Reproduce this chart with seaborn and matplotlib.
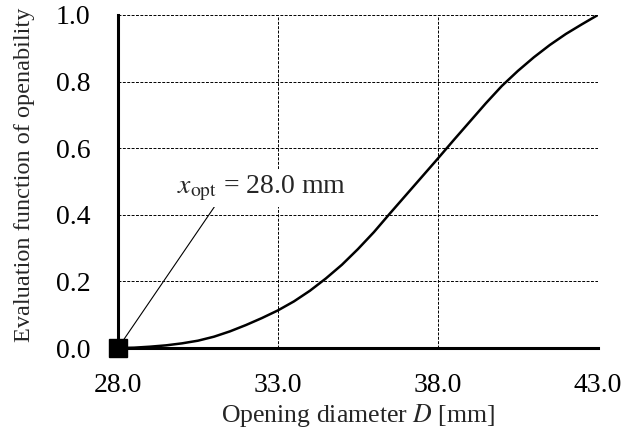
import numpy as np
import pandas as pd
import matplotlib
matplotlib.use('Agg')
import matplotlib.pyplot as plt
import seaborn as sns

# Data
diameter = [28.0, 28.5, 29.0, 29.5, 30.0, 30.5, 31.0, 31.5, 32.0, 32.5,
            33.0, 33.5, 34.0, 34.5, 35.0, 35.5, 36.0, 36.5, 37.0, 37.5,
            38.0, 38.5, 39.0, 39.5, 40.0, 40.5, 41.0, 41.5, 42.0, 42.5, 43.0]
evaluation = [0.000, 0.001, 0.004, 0.008, 0.014, 0.022, 0.034, 0.050, 0.069, 0.090,
              0.113, 0.140, 0.172, 0.209, 0.250, 0.297, 0.348, 0.404, 0.459, 0.514,
              0.569, 0.625, 0.680, 0.735, 0.787, 0.832, 0.873, 0.910, 0.943, 0.972, 1.000]
x_opt = 28.0
y_opt = 0.0
x_ticks = [28.0, 33.0, 38.0, 43.0]
y_ticks = [0.0, 0.2, 0.4, 0.6, 0.8, 1.0]

sns.set_style('white')
plt.rcParams['font.family'] = ['Liberation Serif', 'DejaVu Serif']
plt.rcParams['mathtext.fontset'] = 'stix'
plt.rcParams['font.size'] = 18

df = pd.DataFrame({'D': diameter, 'f': evaluation})

fig = plt.figure(figsize=(6.26, 4.36), dpi=100)
ax = fig.add_axes([0.1885, 0.2018, 0.7665, 0.7638])

sns.lineplot(data=df, x='D', y='f', ax=ax, color='black', linewidth=1.8)

ax.set_xlim(28, 43)
ax.set_ylim(0, 1)
ax.set_xticks(x_ticks)
ax.set_yticks(y_ticks)
ax.set_xticklabels([f'{v:.1f}' for v in x_ticks])
ax.set_yticklabels([f'{v:.1f}' for v in y_ticks])

ax.grid(True, color='black', linestyle=(0, (3, 1.5)), linewidth=0.7)
for side in ['top', 'right']:
    ax.spines[side].set_visible(False)
for side in ['left', 'bottom']:
    ax.spines[side].set_linewidth(2.2)
    ax.spines[side].set_color('black')

ax.tick_params(axis='both', direction='in', length=5.5, width=1.8, colors='black',
               labelsize=20)
ax.tick_params(axis='y', pad=20)
ax.tick_params(axis='x', pad=18)

ax.set_xlabel('Opening diameter $D$ [mm]', fontsize=18.5, labelpad=3)
ax.set_ylabel('Evaluation function of openability', fontsize=17.5, labelpad=14)
ax.yaxis.set_label_coords(-0.173, 0.52)

# optimum marker
ax.plot([x_opt], [y_opt], marker='s', markersize=12.5, color='black',
        clip_on=False, zorder=10)

ax.annotate(r'$x_{\mathrm{opt}}$ = 28.0 mm', xy=(x_opt, y_opt), xytext=(29.83, 0.48),
            ha='left', va='center', fontsize=20,
            bbox=dict(boxstyle='square,pad=0.15', facecolor='white', edgecolor='none'),
            arrowprops=dict(arrowstyle='-', color='black', linewidth=0.8,
                            relpos=(0.24, 0.0), shrinkA=0, shrinkB=0))

plt.savefig('out.png', dpi=100)
